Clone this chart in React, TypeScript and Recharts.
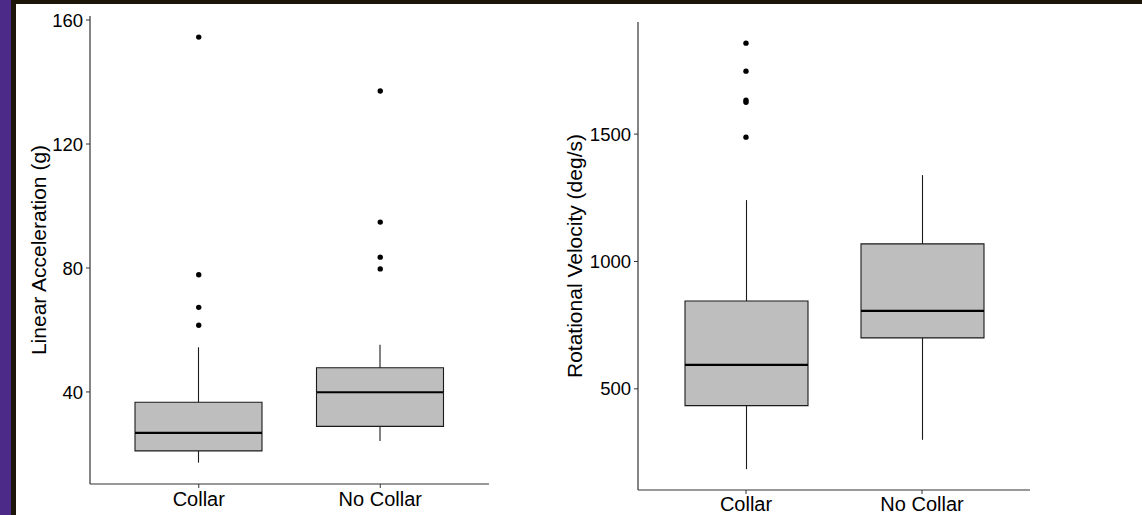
import { Bar, ComposedChart, Scatter, XAxis, YAxis } from "recharts";

const groups = ["Collar", "No Collar"];

// linear acceleration (g)
const accelMin = [17.2, 24.2];
const accelQ1 = [21.0, 28.9];
const accelMedian = [26.8, 39.9];
const accelQ3 = [36.7, 47.8];
const accelMax = [54.4, 55.2];
const accelOutliers = [
  [61.5, 67.3, 77.8, 154.5],
  [79.7, 83.5, 94.8, 137.1],
];
const accelTicks = [40, 80, 120, 160];

// rotational velocity (deg/s)
const rotMin = [185, 300];
const rotQ1 = [434, 700];
const rotMedian = [594, 806];
const rotQ3 = [845, 1069];
const rotMax = [1241, 1339];
const rotOutliers = [[1488, 1625, 1633, 1747, 1857], []];
const rotTicks = [500, 1000, 1500];

const FONT = '"Liberation Sans", Arial, sans-serif';
const INK = "#1a1a1a";
const BOX_FILL = "#bebebe";
const OUTLIER_SLOTS = [0, 1, 2, 3, 4];

function buildRows(
  min: number[],
  q1: number[],
  med: number[],
  q3: number[],
  max: number[],
  outliers: number[][]
) {
  return groups.map((g, i) => {
    const row: Record<string, string | number | null> = {
      group: g,
      base: min[i],
      lowWhisker: q1[i] - min[i],
      lowBox: med[i] - q1[i],
      highBox: q3[i] - med[i],
      highWhisker: max[i] - q3[i],
    };
    OUTLIER_SLOTS.forEach((k) => {
      row[`o${k}`] = outliers[i][k] ?? null;
    });
    return row;
  });
}

const Whisker = (p: any) => {
  const cx = p.x + p.width / 2;
  return <line x1={cx} x2={cx} y1={p.y} y2={p.y + p.height} stroke={INK} strokeWidth={1.1} />;
};

const LowBox = (p: any) => {
  const { x, y, width: w, height: h } = p;
  return (
    <g>
      <rect x={x} y={y} width={w} height={h} fill={BOX_FILL} />
      <path d={`M${x},${y} L${x},${y + h} L${x + w},${y + h} L${x + w},${y}`} fill="none" stroke={INK} strokeWidth={1.1} />
    </g>
  );
};

const HighBox = (p: any) => {
  const { x, y, width: w, height: h } = p;
  return (
    <g>
      <rect x={x} y={y} width={w} height={h} fill={BOX_FILL} />
      <path d={`M${x},${y + h} L${x},${y} L${x + w},${y} L${x + w},${y + h}`} fill="none" stroke={INK} strokeWidth={1.1} />
      <line x1={x} x2={x + w} y1={y + h} y2={y + h} stroke="#000" strokeWidth={2.2} />
    </g>
  );
};

const Dot = (p: any) =>
  Number.isFinite(p.cy) && p.payload && p.payload[p.dataKey ?? ""] !== null ? (
    <circle cx={p.cx} cy={p.cy} r={2.7} fill="#000" />
  ) : (
    <g />
  );

const YTitle = (p: any) => {
  const vb = p.viewBox || {};
  const cy = vb.y + vb.height / 2;
  return (
    <text
      x={p.cx}
      y={cy}
      transform={`rotate(-90, ${p.cx}, ${cy})`}
      textAnchor="middle"
      dominantBaseline="central"
      fontSize={21}
      fill="#000"
      fontFamily={FONT}
    >
      {p.text}
    </text>
  );
};

type PanelProps = {
  rows: Record<string, string | number | null>[];
  domain: [number, number];
  ticks: number[];
  title: string;
  left: number;
  width: number;
  margin: { top: number; right: number; bottom: number; left: number };
  xHeight: number;
  pad: number;
  barSize: number;
  titleX: number;
  tickMargin: number;
};

function BoxPanel(props: PanelProps) {
  const { rows, domain, ticks, title, left, width, margin, xHeight, pad, barSize, titleX, tickMargin } = props;
  return (
    <div style={{ position: "absolute", left, top: 0 }}>
      <ComposedChart width={width} height={515} data={rows} margin={margin} style={{ fontFamily: FONT }}>
        <XAxis
          dataKey="group"
          type="category"
          padding={{ left: pad, right: pad }}
          height={xHeight}
          tickSize={4}
          tickMargin={tickMargin}
          axisLine={{ stroke: "#333", strokeWidth: 1.2 }}
          tickLine={{ stroke: "#333" }}
          tick={{ fill: "#000", fontSize: 20 }}
        />
        <YAxis
          type="number"
          domain={domain}
          allowDataOverflow
          ticks={ticks}
          width={60}
          tickSize={4}
          tickMargin={3}
          axisLine={{ stroke: "#333", strokeWidth: 1.2 }}
          tickLine={{ stroke: "#333" }}
          tick={{ fill: "#000", fontSize: 18.5 }}
          label={<YTitle text={title} cx={titleX} />}
        />
        <Bar dataKey="base" stackId="box" barSize={barSize} shape={() => <g />} isAnimationActive={false} />
        <Bar dataKey="lowWhisker" stackId="box" barSize={barSize} shape={Whisker} isAnimationActive={false} />
        <Bar dataKey="lowBox" stackId="box" barSize={barSize} shape={LowBox} isAnimationActive={false} />
        <Bar dataKey="highBox" stackId="box" barSize={barSize} shape={HighBox} isAnimationActive={false} />
        <Bar dataKey="highWhisker" stackId="box" barSize={barSize} shape={Whisker} isAnimationActive={false} />
        {OUTLIER_SLOTS.map((k) => (
          <Scatter key={k} dataKey={`o${k}`} shape={Dot} isAnimationActive={false} />
        ))}
      </ComposedChart>
    </div>
  );
}

export default function App() {
  const accelRows = buildRows(accelMin, accelQ1, accelMedian, accelQ3, accelMax, accelOutliers);
  const rotRows = buildRows(rotMin, rotQ1, rotMedian, rotQ3, rotMax, rotOutliers);

  return (
    <div style={{ position: "relative", width: 1142, height: 515, background: "#1b1609", overflow: "hidden" }}>
      <style>{`body{margin:0}`}</style>
      <div style={{ position: "absolute", left: 0, top: 0, width: 11, height: 515, background: "#4b2a88" }} />
      <div style={{ position: "absolute", left: 16, top: 4, right: 0, bottom: 0, background: "#ffffff" }} />
      <BoxPanel
        rows={accelRows}
        domain={[10.3, 161.3]}
        ticks={accelTicks}
        title="Linear Acceleration (g)"
        left={0}
        width={520}
        margin={{ top: 16, right: 31, bottom: 0, left: 30 }}
        xHeight={31}
        pad={18}
        barSize={127}
        titleX={38}
        tickMargin={4}
      />
      <BoxPanel
        rows={rotRows}
        domain={[103, 1940]}
        ticks={rotTicks}
        title="Rotational Velocity (deg/s)"
        left={520}
        width={622}
        margin={{ top: 22, right: 112, bottom: 0, left: 58 }}
        xHeight={25}
        pad={20}
        barSize={123}
        titleX={54}
        tickMargin={3}
      />
    </div>
  );
}
